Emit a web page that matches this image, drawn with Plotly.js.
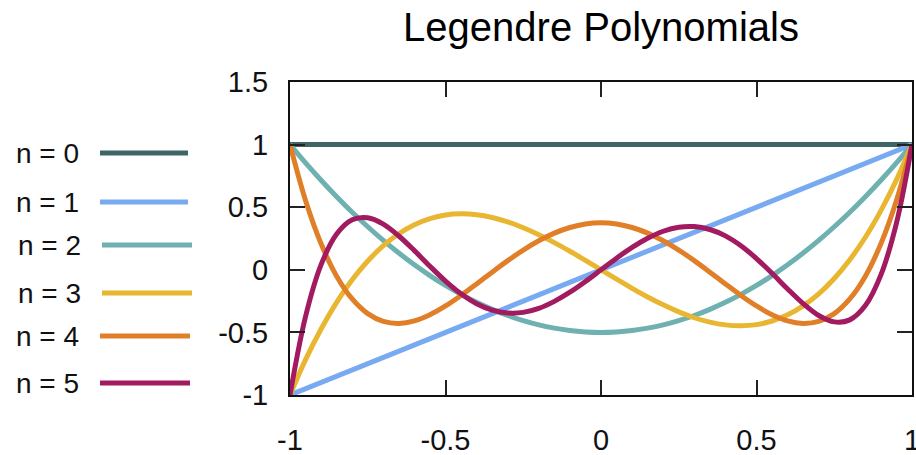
<!DOCTYPE html>
<html>
<head>
<meta charset="utf-8">
<script src="https://cdn.plot.ly/plotly-3.0.1.min.js"></script>
<style>html,body{margin:0;padding:0;background:#fff;}#chart{width:916px;height:455px;}</style>
</head>
<body>
<div id="chart"></div>
<script>
// ---- data ----
const xs = [-1,-0.95,-0.9,-0.85,-0.8,-0.75,-0.7,-0.65,-0.6,-0.55,-0.5,-0.45,-0.4,-0.35,-0.3,-0.25,-0.2,-0.15,-0.1,-0.05,0,
            0.05,0.1,0.15,0.2,0.25,0.3,0.35,0.4,0.45,0.5,0.55,0.6,0.65,0.7,0.75,0.8,0.85,0.9,0.95,1];
const x01 = [-1, 1];
const p0 = [1, 1];
const p1 = [-1, 1];
const p2 = [1,0.854,0.715,0.584,0.46,0.344,0.235,0.134,0.04,-0.046,-0.125,-0.196,-0.26,-0.316,-0.365,-0.406,-0.44,-0.466,-0.485,-0.496,-0.5,
            -0.496,-0.485,-0.466,-0.44,-0.406,-0.365,-0.316,-0.26,-0.196,-0.125,-0.046,0.04,0.134,0.235,0.344,0.46,0.584,0.715,0.854,1];
const p3 = [-1,-0.718,-0.473,-0.26,-0.08,0.07,0.193,0.288,0.36,0.409,0.438,0.447,0.44,0.418,0.383,0.336,0.28,0.217,0.148,0.075,0,
            -0.075,-0.148,-0.217,-0.28,-0.336,-0.383,-0.418,-0.44,-0.447,-0.438,-0.409,-0.36,-0.288,-0.193,-0.07,0.08,0.26,0.473,0.718,1];
const p4 = [1,0.554,0.208,-0.051,-0.233,-0.35,-0.412,-0.428,-0.408,-0.359,-0.289,-0.205,-0.113,-0.019,0.073,0.158,0.232,0.293,0.338,0.366,0.375,
            0.366,0.338,0.293,0.232,0.158,0.073,-0.019,-0.113,-0.205,-0.289,-0.359,-0.408,-0.428,-0.412,-0.35,-0.233,-0.051,0.208,0.554,1];
const p5 = [-1,-0.373,0.041,0.286,0.4,0.416,0.365,0.27,0.153,0.028,-0.09,-0.192,-0.271,-0.322,-0.345,-0.34,-0.308,-0.252,-0.179,-0.093,0,
            0.093,0.179,0.252,0.308,0.34,0.345,0.322,0.271,0.192,0.09,-0.028,-0.153,-0.27,-0.365,-0.416,-0.4,-0.286,-0.041,0.373,1];
const names = ["n = 0","n = 1","n = 2","n = 3","n = 4","n = 5"];
const xTicks = [-1,-0.5,0,0.5,1];
const xTickText = ["-1","-0.5","0","0.5","1"];
const yTicks = [-1,-0.5,0,0.5,1,1.5];
const yTickText = ["-1","-0.5","0","0.5","1","1.5"];
const titleText = "Legendre Polynomials";

// ---- styling ----
const colors = ["#3e6667","#78aaf2","#6fb0b1","#e8b631","#e07f28","#a21a60"];
const W = 916, H = 455;
const M = {l: 290, r: 4, t: 82, b: 60};
const PW = W - M.l - M.r, PH = H - M.t - M.b;
const px2x = p => (p - M.l) / PW;
const py2y = p => (H - M.b - p) / PH;

const seriesX = [x01, x01, xs, xs, xs, xs];
const seriesY = [p0, p1, p2, p3, p4, p5];
const traces = seriesY.map((y, i) => ({
  type: 'scatter', mode: 'lines', x: seriesX[i], y: y, name: names[i],
  line: {color: colors[i], width: 5, shape: 'spline', smoothing: 1},
  showlegend: false, hoverinfo: 'skip'
}));

// custom legend (text on the left, line sample on the right)
const legY = [153, 202, 245, 293, 336, 383];
const legTextX = [14, 14, 16, 16, 14, 14];
const legLine = [[100,188],[100,188],[102,192],[102,192],[100,190],[100,190]];
const annotations = names.map((n, i) => ({
  xref: 'paper', yref: 'paper', x: px2x(legTextX[i]), y: py2y(legY[i]),
  xanchor: 'left', yanchor: 'middle', text: n, showarrow: false,
  font: {family: 'Liberation Sans, Arial, sans-serif', size: 28, color: '#111'}
}));
const shapes = names.map((n, i) => ({
  type: 'line', xref: 'paper', yref: 'paper',
  x0: px2x(legLine[i][0]), x1: px2x(legLine[i][1]), y0: py2y(legY[i]), y1: py2y(legY[i]),
  line: {color: colors[i], width: 5}
}));

const axFont = {family: 'Liberation Sans, Arial, sans-serif', size: 29, color: '#111'};
const layout = {
  width: W, height: H, margin: M,
  paper_bgcolor: '#fff', plot_bgcolor: '#fff',
  title: {text: titleText, x: 601 / W, xref: 'container', xanchor: 'center',
          y: 1 - 27 / H, yref: 'container', yanchor: 'middle',
          font: {family: 'Liberation Sans, Arial, sans-serif', size: 40, color: '#000'}},
  xaxis: {range: [-1, 1], tickvals: xTicks, ticktext: xTickText, ticks: 'inside', ticklen: 15,
          tickwidth: 2, tickcolor: '#222', showline: true, linecolor: '#111', linewidth: 2, mirror: 'ticks',
          showgrid: false, zeroline: false, tickfont: axFont, ticklabelstandoff: 18,
          ticklabeloverflow: 'allow', fixedrange: true},
  yaxis: {range: [-1, 1.5], tickvals: yTicks, ticktext: yTickText, ticks: 'inside', ticklen: 15,
          tickwidth: 2, tickcolor: '#222', showline: true, linecolor: '#111', linewidth: 2, mirror: 'ticks',
          showgrid: false, zeroline: false, tickfont: axFont, ticklabelstandoff: 14,
          ticklabeloverflow: 'allow', fixedrange: true},
  annotations: annotations, shapes: shapes, showlegend: false
};
Plotly.newPlot('chart', traces, layout, {displayModeBar: false, staticPlot: true});
</script>
</body>
</html>
